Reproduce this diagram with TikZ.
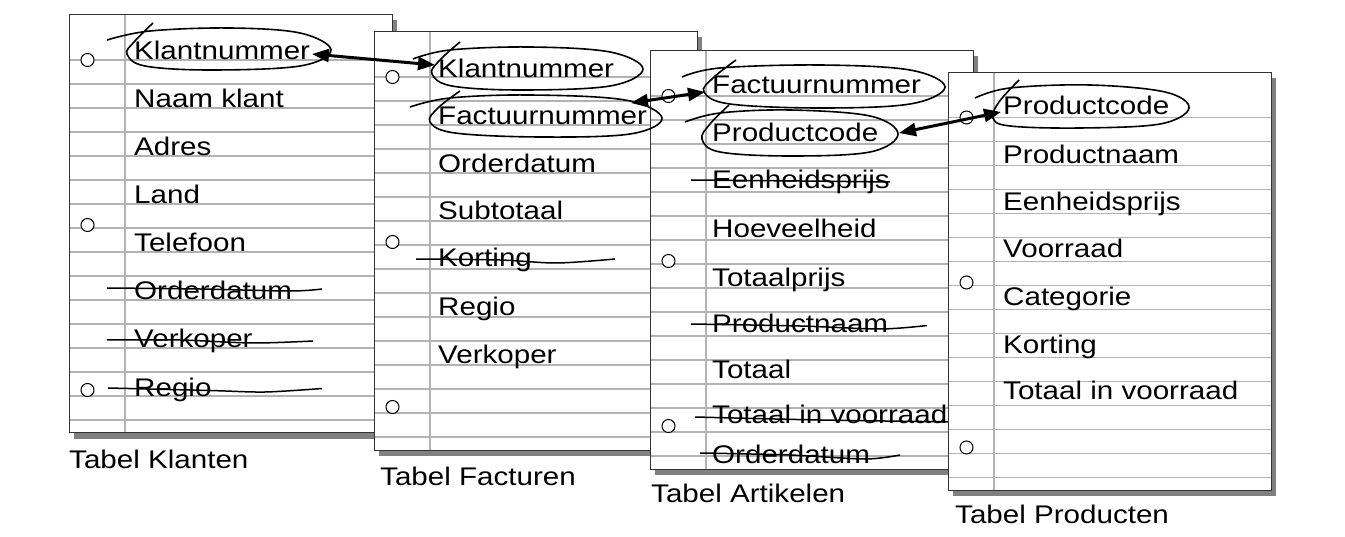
\documentclass[tikz,border=0pt]{standalone}
\usepackage{fontspec}
\setmainfont{Liberation Sans}[FakeStretch=1.16]
\usetikzlibrary{arrows.meta}
\definecolor{rulegray}{RGB}{178,178,178}
\definecolor{shadowgray}{RGB}{128,128,128}
\tikzset{
  rule/.style={draw=rulegray,line width=1.4pt},
  border/.style={draw=black!80,line width=1pt},
  hole/.style={draw=black,fill=white,line width=1pt},
  item/.style={anchor=base west,inner sep=0pt,font=\fontsize{25.5}{30}\selectfont},
  strike/.style={draw=black,line width=1.5pt},
  handloop/.style={draw=black,line width=1.6pt},
  link/.style={draw=black,line width=3pt,{Triangle[length=17pt,width=13pt]}-{Triangle[length=17pt,width=13pt]}},
}
\newcommand{\papersheet}[3]{%
  \fill[shadowgray] (#1+5,#2+5.5) rectangle (#1+328,#2+423.5);
  \fill[white] (#1,#2) rectangle (#1+323,#2+418);
  \foreach \k in {0,...,15} \draw[rule] (#1,#2+45+24*\k) -- (#1+323,#2+45+24*\k);
  \draw[rule] (#1+#3,#2) -- (#1+#3,#2+418);
  \draw[border] (#1,#2) rectangle (#1+323,#2+418);
  \foreach \yy in {45,210,375} \draw[hole] (#1+18.5,#2+\yy) circle (6.5pt);
}
\begin{document}
\begin{tikzpicture}[x=1pt,y=-1pt]
\useasboundingbox (0,0) rectangle (1345,537);
\fill[white] (0,0) rectangle (1345,537);

% ---------- Tabel Klanten ----------
\papersheet{69}{15}{56}
\node[item] (k1) at (134,60) {Klantnummer};
\node[item] (k2) at (134,108) {Naam klant};
\node[item] (k3) at (134,156) {Adres};
\node[item] (k4) at (134,204) {Land};
\node[item] (k5) at (134,252) {Telefoon};
\node[item] (k6) at (134,300) {Orderdatum};
\node[item] (k7) at (134,348) {Verkoper};
\node[item] (k8) at (134,396) {Regio};
\draw[strike] plot[smooth] coordinates {(107,288) (200,289) (290,291) (322,289)};
\draw[strike] plot[smooth] coordinates {(107,340) (180,340) (253,343) (313,341)};
\draw[strike] plot[smooth] coordinates {(108,388) (210,390.5) (265,392) (322,388.5)};
\node[item] (lk) at (69,468) {Tabel Klanten};

% ---------- Tabel Facturen ----------
\papersheet{374}{32}{56}
\node[item] (f1) at (438,78) {Klantnummer};
\node[item] (f2) at (438,125) {Factuurnummer};
\node[item] (f3) at (438,173) {Orderdatum};
\node[item] (f4) at (438,220) {Subtotaal};
\node[item] (f5) at (438,267) {Korting};
\node[item] (f6) at (438,316) {Regio};
\node[item] (f7) at (438,364) {Verkoper};
\draw[strike] plot[smooth] coordinates {(416,259) (500,260) (557,263) (615,259)};
\node[item] (lf) at (380,485) {Tabel Facturen};

% ---------- Tabel Artikelen ----------
\papersheet{650}{51}{56}
\node[item] (a1) at (712,94) {Factuurnummer};
\node[item] (a2) at (712,142) {Productcode};
\node[item] (a3) at (712,189) {Eenheidsprijs};
\node[item] (a4) at (712,238) {Hoeveelheid};
\node[item] (a5) at (712,287) {Totaalprijs};
\node[item] (a6) at (712,333) {Productnaam};
\node[item] (a7) at (712,379) {Totaal};
\node[item] (a8) at (712,424) {Totaal in voorraad};
\node[item] (a9) at (712,464) {Orderdatum};
\draw[strike] plot[smooth] coordinates {(691,180) (800,181) (890,182)};
\draw[strike] plot[smooth] coordinates {(691,324) (800,326) (880,329) (927,325.5)};
\draw[strike] plot[smooth] coordinates {(695,417) (820,420) (960,422)};
\draw[strike] plot[smooth] coordinates {(700,453) (790,455) (865,459) (900,455)};
\node[item] (la) at (651,502) {Tabel Artikelen};

% ---------- Tabel Producten ----------
\papersheet{948}{72.5}{46}
\node[item] (p1) at (1003,115) {Productcode};
\node[item] (p2) at (1003,164) {Productnaam};
\node[item] (p3) at (1003,211) {Eenheidsprijs};
\node[item] (p4) at (1003,258) {Voorraad};
\node[item] (p5) at (1003,306) {Categorie};
\node[item] (p6) at (1003,354) {Korting};
\node[item] (p7) at (1003,400) {Totaal in voorraad};
\node[item] (lp) at (955,523) {Tabel Producten};

% ---------- hand-drawn loops ----------
\draw[handloop] plot[smooth,tension=0.6] coordinates {(107,40) (150,31) (230,28) (300,33) (331,50) (300,66) (210,70) (145,66) (127,54) (134,42) (153,23)};
\draw[handloop] plot[smooth,tension=0.6] coordinates {(413,59) (450,50) (530,47) (610,52) (643,69) (610,86) (520,90) (452,86) (432,74) (439,61) (460,42)};
\draw[handloop] plot[smooth,tension=0.6] coordinates {(410,107) (450,98) (530,95) (625,100) (662,118) (630,134) (540,137) (455,133) (430,122) (438,108) (460,91)};
\draw[handloop] plot[smooth,tension=0.6] coordinates {(682,77) (720,68) (820,65) (910,70) (945,87) (910,104) (820,108) (730,104) (704,92) (713,78) (736,60)};
\draw[handloop] plot[smooth,tension=0.6] coordinates {(685,122) (720,113) (790,110) (870,116) (898,134) (870,152) (790,156) (720,152) (702,139) (710,124) (729,105)};
\draw[handloop] plot[smooth,tension=0.6] coordinates {(975,98) (1010,88) (1090,85) (1165,92) (1189,108) (1160,124) (1080,128) (1010,126) (993,118) (999,102) (1019,80)};

% ---------- links ----------
\coordinate (l1a) at (312,54);
\coordinate (l1b) at (435,65);
\coordinate (l2a) at (631,103);
\coordinate (l2b) at (705,92);
\coordinate (l3a) at (899,133);
\coordinate (l3b) at (1001,112);
\draw[link] (l1a) -- (l1b);
\draw[link] (l2a) -- (l2b);
\draw[link] (l3a) -- (l3b);
\end{tikzpicture}
\end{document}
